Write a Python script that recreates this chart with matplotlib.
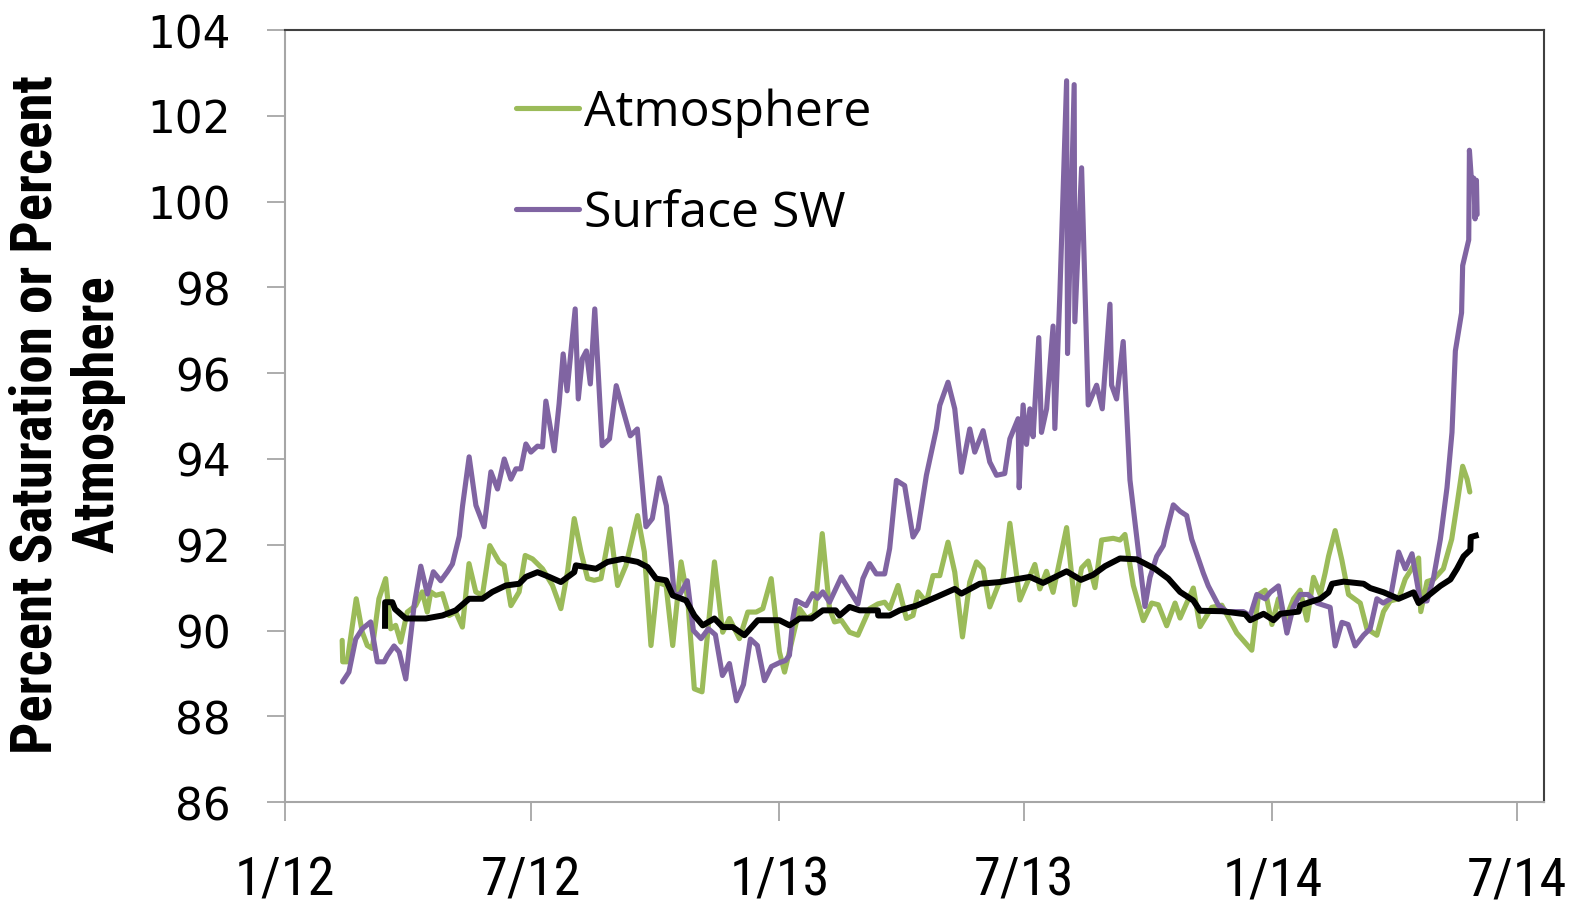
import datetime as dt
import numpy as np
import matplotlib
matplotlib.use("Agg")
import matplotlib.pyplot as plt
import matplotlib.dates as mdates
from matplotlib import font_manager

# ---- data: days after 1 Jan 2012 and percent values ----
atm_days = [42.3, 42.7, 46, 52.7, 57.2, 60.9, 64.6, 69.5, 74.5, 78.2, 81.9, 85.6, 90.5, 96.7,
            101.6, 105.3, 107.9, 111.6, 116.5, 121.4, 126.4, 131.3, 136.2, 141.2, 146.1, 151.6,
            158.5, 162.2, 167.2, 173.3, 177.8, 183.2, 190.6, 198, 204.2, 209.1, 214.1, 219.1,
            224, 228.9, 233.9, 240.8, 246.2, 252.4, 261, 266, 270.9, 275.8, 282.1, 287, 293.2,
            298.1, 303, 308.7, 317.9, 324, 329, 336.4, 342.6, 348.8, 353.7, 359.9, 366, 369.8,
            380.9, 386.1, 392, 397.7, 403.1, 406.8, 411.8, 417.9, 424.1, 432.8, 438.9, 443.9,
            447.6, 453.8, 460, 464.9, 468.6, 474.8, 479.7, 484.7, 490.8, 495.8, 501.5, 506.9,
            511.9, 516.8, 521.7, 527.9, 531.6, 536.6, 544, 555.1, 558.8, 563.7, 568.6, 578.6,
            584.7, 589.7, 594.6, 599.6, 604.5, 613.1, 618.1, 621.8, 628, 635.4, 641.6, 646.5,
            652.7, 658.9, 662.6, 672.4, 677.4, 686.1, 693.5, 704.6, 715.7, 720.7, 725.6, 730.6,
            735.4, 740.4, 746.6, 751.5, 756.5, 761.4, 766.3, 770, 772.5, 777.4, 782.4, 787.3,
            796, 800.9, 808.3, 813.2, 818.2, 824.4, 829.3, 835.2, 839.2, 840.8, 845.4, 850.3,
            857.5, 863.7, 867.6, 871.8, 875.1, 877.1]
atm_vals = [89.77, 89.27, 89.27, 90.74, 89.96, 89.65, 89.58, 90.74, 91.21, 90.04, 90.12, 89.73,
            90.43, 90.58, 90.9, 90.43, 90.9, 90.82, 90.86, 90.35, 90.43, 90.08, 91.56, 90.9,
            90.82, 91.98, 91.6, 91.52, 90.58, 90.9, 91.75, 91.67, 91.44, 91.05, 90.51, 91.36,
            92.61, 91.83, 91.21, 91.17, 91.21, 92.37, 91.05, 91.52, 92.68, 91.83, 89.65, 91.13,
            91.05, 89.65, 91.6, 90.74, 88.64, 88.57, 91.6, 89.96, 90.28, 89.81, 90.43, 90.43,
            90.51, 91.21, 89.5, 89.03, 90.51, 90.28, 90.39, 92.26, 90.51, 90.2, 90.24, 89.96,
            89.89, 90.51, 90.62, 90.66, 90.51, 91.05, 90.28, 90.35, 90.9, 90.66, 91.28, 91.28,
            92.06, 91.36, 89.85, 91.13, 91.6, 91.44, 90.55, 91.05, 91.21, 92.5, 90.71, 91.54,
            90.97, 91.38, 90.89, 92.4, 90.6, 91.46, 91.62, 91.0, 92.11, 92.15, 92.11, 92.24,
            91.05, 90.23, 90.64, 90.6, 90.11, 90.64, 90.29, 90.99, 90.09, 90.54, 90.59, 89.94,
            89.54, 90.84, 90.94, 90.14, 90.74, 90.24, 90.74, 90.94, 90.24, 91.24, 90.84, 91.34,
            91.73, 92.33, 91.64, 90.84, 90.64, 90.04, 89.89, 90.44, 90.69, 90.74, 91.2, 91.5,
            91.69, 90.44, 91.14, 91.19, 91.44, 92.13, 92.93, 93.83, 93.53, 93.23]

sw_days = [42.5, 47.3, 52.3, 57.2, 63.4, 68.3, 73.4, 75.7, 80.7, 84.5, 89.4, 95.5, 100.5, 105.4,
           109.8, 115.3, 120.2, 123.9, 129, 131.4, 136.3, 141.3, 147.4, 152.4, 157.3, 162.3,
           167.2, 170.9, 174.6, 178.3, 182, 186.9, 190.6, 193.1, 199.3, 202.9, 205.9, 208.8,
           211.9, 214.8, 217.1, 220.1, 223.1, 226, 229.3, 234.8, 240.2, 245.2, 250.4, 255.6,
           260.8, 267.2, 271.9, 277.2, 282.3, 288.2, 292.7, 297.8, 302.3, 308, 313.4, 318.6,
           323.8, 329, 334.2, 339.4, 344.5, 349.7, 354.9, 360.1, 366, 370.5, 373.4, 375.9,
           378.4, 385.8, 390.7, 394.2, 398.1, 403.1, 411.8, 417.9, 424.1, 427.8, 432.8, 437.7,
           443.9, 447.6, 452.6, 458.7, 464.9, 468.6, 474.8, 482.2, 484.7, 490.8, 495.8, 500.7,
           506.9, 510.6, 516.8, 521.7, 526.7, 532.8, 536.6, 542.7, 543.5, 546.4, 548.9, 551.4,
           553.8, 558, 560, 563.8, 568.6, 569.9, 573.6, 578.6, 579.3, 584.2, 584.7, 589.7,
           594.6, 600.8, 605, 610.7, 611.9, 615.6, 620.5, 625.5, 636.6, 640.3, 645.3, 650.2,
           652.7, 657.6, 662.6, 667.5, 671.2, 679.8, 683.5, 691, 697.2, 703.4, 709.5, 714.5,
           719.4, 725.6, 729.3, 735.4, 741.7, 746.3, 751.5, 757.3, 763.9, 773.7, 777.4, 782.4,
           787, 792.2, 798.4, 803.3, 808.3, 813, 818.2, 824.4, 829.3, 834.3, 840.4, 845.4,
           850.3, 855.3, 860.2, 863.9, 866.4, 871.0, 871.8, 876.3, 876.8, 878.5, 880, 881,
           882, 882.5]
sw_vals = [88.8, 89.03, 89.8, 90.04, 90.2, 89.27, 89.27, 89.41, 89.64, 89.5, 88.87, 90.57, 91.5,
           90.85, 91.37, 91.16, 91.37, 91.55, 92.2, 92.9, 94.05, 92.92, 92.42, 93.7, 93.3, 94.0,
           93.53, 93.77, 93.77, 94.35, 94.16, 94.3, 94.28, 95.35, 94.19, 95.29, 96.45, 95.59,
           96.57, 97.5, 95.4, 96.34, 96.52, 95.75, 97.5, 94.31, 94.47, 95.71, 95.12, 94.54,
           94.7, 92.42, 92.61, 93.56, 92.91, 90.81, 90.86, 91.16, 90.0, 89.81, 90.04, 89.9,
           88.95, 89.23, 88.36, 88.74, 89.8, 89.65, 88.83, 89.16, 89.25, 89.3, 89.42, 90.27,
           90.7, 90.58, 90.86, 90.75, 90.9, 90.66, 91.25, 90.93, 90.62, 91.21, 91.56, 91.32,
           91.32, 91.91, 93.5, 93.38, 92.18, 92.37, 93.62, 94.7, 95.25, 95.79, 95.17, 93.69,
           94.7, 94.16, 94.66, 93.93, 93.62, 93.66, 94.47, 94.94, 93.33, 95.26, 94.34, 95.17,
           94.52, 96.83, 94.62, 95.17, 97.1, 94.71, 97.84, 102.82, 96.46, 102.73, 97.2, 100.79,
           95.26, 95.72, 95.17, 97.61, 95.72, 95.4, 96.74, 93.51, 90.56, 91.24, 91.73, 91.98,
           92.33, 92.93, 92.78, 92.68, 92.13, 91.34, 91.04, 90.59, 90.44, 90.44, 90.44, 90.34,
           90.84, 90.74, 90.89, 91.04, 89.94, 90.54, 90.84, 90.84, 90.64, 90.54, 89.64, 90.19,
           90.14, 89.64, 89.89, 90.04, 90.74, 90.64, 90.74, 91.83, 91.44, 91.79, 90.69, 90.69,
           91.24, 92.13, 93.33, 94.62, 96.52, 97.41, 98.51, 99.11, 101.2, 100.4, 100.55, 99.6,
           100.5, 99.7]

avg_days = [74.0, 74.1, 79.4, 81.4, 89.3, 104.2, 116.5, 126.4, 136.3, 146.1, 153.5, 163.5, 173.3,
            178.3, 186.9, 195.6, 204.2, 214.1, 215.3, 230.2, 238.8, 249.9, 261, 268.4, 274.7,
            282.1, 287, 296.9, 303, 309.2, 317.9, 324, 331.4, 340.1, 350, 366, 373.5, 380.9,
            389.8, 398.1, 407.6, 410.5, 417.9, 425.4, 438.9, 439.1, 447.6, 455, 467.4, 482.2,
            495.8, 500.7, 514.3, 529.1, 544, 551.4, 561.2, 578.6, 589.2, 598.3, 607, 618.1,
            630.5, 644, 653.9, 662.6, 672.4, 677.4, 693.5, 710.8, 714.5, 724.4, 731.8, 736.8,
            750.3, 751.6, 766.4, 772.5, 775.1, 783.7, 798.5, 803.4, 813.3, 824.4, 835.5, 839.2,
            845.4, 855.3, 862.7, 867.6, 872.5, 877.5, 877.8, 883.6]
avg_vals = [90.04, 90.66, 90.66, 90.5, 90.28, 90.28, 90.35, 90.47, 90.74, 90.74, 90.9, 91.05,
            91.09, 91.25, 91.36, 91.25, 91.13, 91.36, 91.52, 91.44, 91.6, 91.67, 91.6, 91.48,
            91.21, 91.17, 90.82, 90.7, 90.35, 90.12, 90.28, 90.08, 90.08, 89.89, 90.24, 90.24,
            90.12, 90.28, 90.28, 90.47, 90.47, 90.35, 90.55, 90.47, 90.47, 90.35, 90.35, 90.47,
            90.58, 90.78, 90.97, 90.86, 91.09, 91.13, 91.21, 91.25, 91.11, 91.38, 91.18, 91.3,
            91.5, 91.68, 91.66, 91.44, 91.21, 90.9, 90.7, 90.46, 90.45, 90.38, 90.24, 90.39,
            90.24, 90.39, 90.44, 90.59, 90.74, 90.89, 91.09, 91.14, 91.09, 90.99, 90.89, 90.74,
            90.89, 90.64, 90.79, 91.04, 91.19, 91.44, 91.73, 91.88, 92.18, 92.23]

tick_dates = ["2012-01-01", "2012-07-01", "2013-01-01", "2013-07-01", "2014-01-01", "2014-07-01"]
tick_labels = ["1/12", "7/12", "1/13", "7/13", "1/14", "7/14"]
y_ticks = [86, 88, 90, 92, 94, 96, 98, 100, 102, 104]
series_labels = ["Atmosphere", "Surface SW"]
y_title = "Percent Saturation or Percent\nAtmosphere"


def pick(*names):
    have = {f.name for f in font_manager.fontManager.ttflist}
    for n in names:
        if n in have:
            return n
    return "DejaVu Sans"


narrow = pick("Liberation Sans Narrow", "DejaVu Sans Condensed", "Roboto Condensed", "Liberation Sans")
legend_font = pick("Open Sans", "Lato", "DejaVu Sans")

base = mdates.date2num(dt.datetime(2012, 1, 1))
to_x = lambda d: base + np.asarray(d, dtype=float)

GREEN = "#9BBB59"
PURPLE = "#8064A2"

fig = plt.figure(figsize=(15.8, 9.04), dpi=100)
ax = fig.add_axes([0.1804, 0.1117, 0.7968, 0.8538])

l_atm, = ax.plot(to_x(atm_days), atm_vals, color=GREEN, lw=3.7, solid_joinstyle="round",
                 solid_capstyle="round", label=series_labels[0], zorder=2)
l_sw, = ax.plot(to_x(sw_days), sw_vals, color=PURPLE, lw=3.7, solid_joinstyle="round",
                solid_capstyle="round", label=series_labels[1], zorder=3)
ax.plot(to_x(avg_days), avg_vals, color="black", lw=4.3, solid_joinstyle="round",
        solid_capstyle="butt", zorder=4)

ax.set_ylim(86, 104)
ax.set_yticks(y_ticks)
ax.set_xlim(base, mdates.date2num(dt.datetime(2014, 7, 21)))
ax.set_xticks([mdates.date2num(dt.datetime.fromisoformat(s)) for s in tick_dates])
ax.set_xticklabels(tick_labels, fontfamily=narrow, fontsize=39)
for lab in ax.get_yticklabels():
    lab.set_fontfamily("DejaVu Sans")
    lab.set_fontsize(31.5)

for side in ("left", "bottom"):
    ax.spines[side].set_color("#a6a6a6")
    ax.spines[side].set_linewidth(1.5)
for side in ("top", "right"):
    ax.spines[side].set_color("#404040")
    ax.spines[side].set_linewidth(1.5)
ax.tick_params(axis="y", direction="out", length=13, width=1.3, color="#a6a6a6", pad=26)
ax.tick_params(axis="x", direction="out", length=14, width=1.3, color="#a6a6a6", pad=24)

fig.text(0.0425, 0.542, y_title, rotation=90, ha="center", va="center", multialignment="center",
         fontfamily=narrow, fontweight="bold", fontsize=41, linespacing=1.17)

leg_handles = [l_atm, l_sw]
ax.legend(handles=leg_handles, loc="upper left", bbox_to_anchor=(516 / 1580, 1 - 89 / 904),
          bbox_transform=fig.transFigure, frameon=False,
          prop={"family": legend_font, "size": 36}, handlelength=1.26, handletextpad=0.1,
          labelspacing=1.02, borderpad=0, borderaxespad=0)
for h in ax.get_legend().get_lines():
    h.set_linewidth(3.7)

fig.savefig("out.png", dpi=100)
